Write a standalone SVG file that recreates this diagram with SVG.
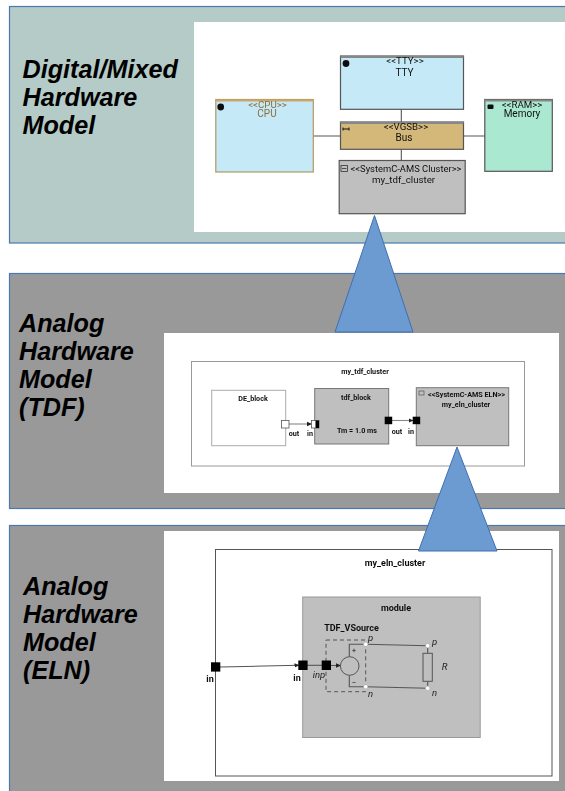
<svg xmlns="http://www.w3.org/2000/svg" width="565" height="791" viewBox="0 0 565 791">
<style>
.panel{stroke:#4a78b0;stroke-width:1.2}
.title{font:italic bold 25.2px "Liberation Sans",Arial,sans-serif;fill:#000}
.sans{font-family:Roboto,"Liberation Sans",sans-serif;fill:#111;text-anchor:middle}
.t1{font-size:9.7px}
.t1b{font-size:10px}
.t2{font-size:7.2px;font-weight:bold;font-family:Roboto,"Liberation Sans",sans-serif;fill:#111;text-anchor:middle}
.t3{font-size:9px;font-weight:bold;font-family:Roboto,"Liberation Sans",sans-serif;fill:#111;text-anchor:middle}
.it{font-size:9.5px;font-style:italic;font-family:Roboto,"Liberation Sans",sans-serif;fill:#222;text-anchor:middle}
.blk{stroke:#555;stroke-width:1.2}
.gray{fill:#bfbfbf;stroke:#777;stroke-width:1}
.wire{fill:none;stroke:#555;stroke-width:1.1}
.tri{fill:#6c9bd2;stroke:#3f6fae;stroke-width:1}
.port{fill:#000}
.pin{fill:#fff;stroke:#999;stroke-width:.5}
</style>
<defs>
<filter id="soft" x="-5%" y="-5%" width="110%" height="110%"><feGaussianBlur stdDeviation="0.4"/></filter>
<marker id="ah" markerUnits="userSpaceOnUse" markerWidth="6" markerHeight="6" refX="4.5" refY="3" orient="auto"><path d="M0 0.8L5 3L0 5.2Z" fill="#222"/></marker>
</defs>
<rect width="565" height="791" fill="#fff"/>

<g id="panel-digital">
<rect class="panel" x="9.5" y="6.5" width="570" height="236.5" fill="#b4cbc7"/>
<rect x="194" y="22" width="371" height="210" fill="#fff"/>
<text class="title" x="22.5" y="78">Digital/Mixed</text>
<text class="title" x="22.5" y="106">Hardware</text>
<text class="title" x="22.5" y="134">Model</text>
</g>
<g id="panel-tdf">
<rect class="panel" x="9.5" y="273.5" width="570" height="235" fill="#999"/>
<rect x="164" y="333" width="395" height="160" fill="#fff"/>
<text class="title" x="19" y="332">Analog</text>
<text class="title" x="19" y="360">Hardware</text>
<text class="title" x="19" y="388">Model</text>
<text class="title" x="19" y="416">(TDF)</text>
</g>
<g id="panel-eln">
<rect class="panel" x="9.5" y="525.5" width="570" height="280" fill="#999"/>
<rect x="164" y="531" width="395" height="250" fill="#fff"/>
<text class="title" x="23" y="595">Analog</text>
<text class="title" x="23" y="623">Hardware</text>
<text class="title" x="23" y="651">Model</text>
<text class="title" x="23" y="679">(ELN)</text>
</g>

<g filter="url(#soft)">
<g id="connectors-digital">
<path class="wire" d="M313 136H341M463 136H485M401.3 109V122M401.3 149V160.5"/>
</g>
<g id="node-tty">
<rect class="blk" x="340.5" y="56" width="123" height="53.3" fill="#c6e9f8"/>
<rect x="340.5" y="56" width="123" height="2" fill="#888"/>
<circle cx="346" cy="63.5" r="3.4" fill="#111"/>
<text class="sans t1" x="405" y="64.3">&lt;&lt;TTY&gt;&gt;</text>
<text class="sans t1b" x="404.5" y="75.7">TTY</text>
</g>
<g id="node-cpu">
<rect x="215.8" y="99.5" width="97.5" height="72.5" fill="#c6e9f8" stroke="#b09a60" stroke-width="1.2"/>
<rect x="215.8" y="99.5" width="97.5" height="2" fill="#c9a66b"/>
<circle cx="220.7" cy="107" r="3.4" fill="#111"/>
<text class="sans t1" x="267.5" y="108" style="fill:#8a6d3b">&lt;&lt;CPU&gt;&gt;</text>
<text class="sans t1b" x="267" y="116.7" style="fill:#8a6d3b">CPU</text>
</g>
<g id="node-bus">
<rect class="blk" x="340.5" y="122" width="123" height="27.3" fill="#d4b87a"/>
<rect x="340.5" y="122" width="123" height="2" fill="#888"/>
<path d="M343 129H349M343 127.5V130.5M349 127.5V130.5" stroke="#111" stroke-width="1"/>
<text class="sans t1" x="406" y="130.3">&lt;&lt;VGSB&gt;&gt;</text>
<text class="sans t1b" x="404" y="140.7">Bus</text>
</g>
<g id="node-memory">
<rect class="blk" x="484.8" y="99.5" width="67.5" height="71.8" fill="#abe8d2"/>
<rect x="484.8" y="99.5" width="67.5" height="2" fill="#888"/>
<rect x="487.5" y="104.5" width="6" height="4.5" rx="1" fill="#111"/>
<text class="sans t1" x="522" y="108">&lt;&lt;RAM&gt;&gt;</text>
<text class="sans t1b" x="522" y="116.7">Memory</text>
</g>
<g id="node-cluster">
<rect class="blk" x="339.2" y="160.5" width="126" height="53.2" fill="#bfbfbf"/>
<rect x="341" y="165.5" width="6.5" height="6" fill="none" stroke="#333" stroke-width=".8"/>
<path d="M342 168.5H346.5" stroke="#333" stroke-width=".8"/>
<text class="sans t1" x="406" y="171.7" style="font-size:9.4px">&lt;&lt;SystemC-AMS Cluster&gt;&gt;</text>
<text class="sans t1" x="403.5" y="183">my_tdf_cluster</text>
</g>

<g id="node-my-tdf-cluster">
<rect x="191.5" y="361.5" width="333" height="104.5" fill="#fff" stroke="#999" stroke-width="1"/>
<text class="t2" x="365" y="374">my_tdf_cluster</text>
</g>
<g id="node-de-block">
<rect x="211.7" y="390.3" width="74" height="55.4" fill="#fff" stroke="#aaa" stroke-width="1"/>
<text class="t2" x="253" y="400.5">DE_block</text>
</g>
<g id="node-tdf-block">
<rect class="gray" x="314.7" y="388.5" width="74" height="55.5"/>
<text class="t2" x="356" y="399.5">tdf_block</text>
<text class="t2" x="357" y="433">Tm = 1.0 ms</text>
</g>
<g id="node-eln-cluster">
<rect class="gray" x="416.3" y="387.7" width="92.4" height="58"/>
<rect x="419" y="391" width="5" height="4" fill="none" stroke="#444" stroke-width=".6"/>
<text class="t2" x="466.5" y="396.5">&lt;&lt;SystemC-AMS ELN&gt;&gt;</text>
<text class="t2" x="466" y="406.5">my_eln_cluster</text>
</g>
<g id="connectors-tdf">
<path d="M289 424H311.5" fill="none" stroke="#888" stroke-width="1.1" marker-end="url(#ah)"/>
<path d="M392 420.5H413" fill="none" stroke="#888" stroke-width="1.1" marker-end="url(#ah)"/>
</g>
<g id="ports-tdf">
<rect x="281.5" y="420.5" width="7.5" height="7.5" fill="#fff" stroke="#555" stroke-width=".8"/>
<rect x="311.5" y="420.5" width="7.5" height="7.5" fill="#fff" stroke="#555" stroke-width=".8"/>
<rect x="315.5" y="420.5" width="3.5" height="7.5" fill="#000"/>
<rect class="port" x="384.7" y="416.7" width="7.5" height="7.5"/>
<rect class="port" x="412.7" y="416.7" width="7.5" height="7.5"/>
<text class="t2" x="294" y="436">out</text>
<text class="t2" x="310" y="436">in</text>
<text class="t2" x="397" y="433.5">out</text>
<text class="t2" x="411" y="433.5">in</text>
</g>

<g id="node-my-eln-cluster">
<rect x="215.5" y="549.5" width="336.5" height="226.5" fill="#fff" stroke="#555" stroke-width="1"/>
<text class="t3" x="395" y="565.5">my_eln_cluster</text>
</g>
<g id="node-module">
<rect x="302.7" y="597" width="177.5" height="140.5" fill="#bfbfbf" stroke="#999" stroke-width="1"/>
<text class="t3" x="396" y="611">module</text>
<text class="t3" x="351.5" y="630.7">TDF_VSource</text>
</g>
<g id="connectors-eln">
<path class="wire" d="M220 667L299 665.3" marker-end="url(#ah)"/>
<path class="wire" d="M307 665.3H322"/>
<path class="wire" d="M331 665.5H340.5" marker-end="url(#ah)"/>
<path class="wire" d="M365.7 644.3H349.3V656.7M349.3 675.3V686.7H365.7M365.7 644.3L427.7 645.7V653.3M365.7 686.7L427.7 688.3V681.3"/>
</g>
<g id="node-vsource">
<rect x="326" y="640" width="39.7" height="51.7" fill="none" stroke="#555" stroke-width="1" stroke-dasharray="4 3"/>
<circle cx="349.7" cy="666" r="9.3" fill="#bfbfbf" stroke="#555" stroke-width="1"/>
<text class="it" x="354" y="653" style="font-style:normal;font-size:8px">+</text>
<text class="it" x="354" y="685" style="font-style:normal;font-size:8px">−</text>
<circle class="pin" cx="365.7" cy="644.3" r="2.2"/>
<circle class="pin" cx="365.7" cy="686.7" r="2.2"/>
<text class="it" x="370.5" y="640.5">p</text>
<text class="it" x="370.5" y="697">n</text>
<text class="it" x="319" y="678">inp</text>
</g>
<g id="node-resistor">
<rect x="423" y="653.3" width="9.3" height="28" fill="#bfbfbf" stroke="#555" stroke-width="1"/>
<circle class="pin" cx="427.7" cy="645.7" r="2.2"/>
<circle class="pin" cx="427.7" cy="688.3" r="2.2"/>
<text class="it" x="434.5" y="644.5">p</text>
<text class="it" x="434.5" y="696">n</text>
<text class="it" x="444.5" y="670">R</text>
</g>
<g id="ports-eln">
<rect class="port" x="211" y="662.3" width="9.3" height="9.3"/>
<rect class="port" x="298.3" y="660.5" width="9.3" height="9.5"/>
<rect class="port" x="321.7" y="660.5" width="9.3" height="9.5"/>
<text class="t3" x="210" y="682">in</text>
<text class="t3" x="297" y="680.5">in</text>
</g>
</g>

<g id="arrows">
<path class="tri" d="M374.5 215.5L335 332H413Z"/>
<path class="tri" d="M457 447L418.5 551H497Z"/>
</g>
</svg>
